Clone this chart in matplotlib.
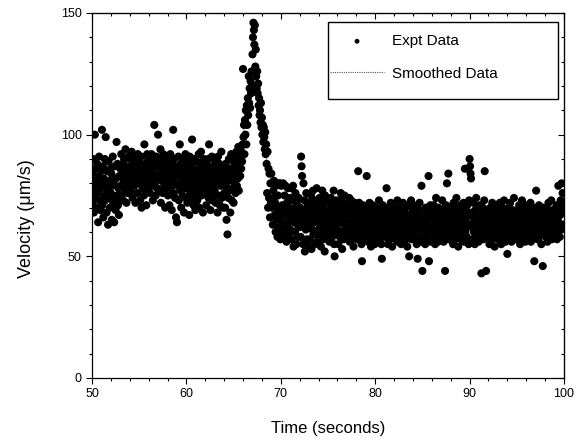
import numpy as np
import matplotlib
matplotlib.use("Agg")
import matplotlib.pyplot as plt
from matplotlib.ticker import MultipleLocator
from matplotlib.patches import Rectangle

# ---- data ----
t_start = 50.0
sample_dt = 0.05  # seconds between samples
velocity_rows = [
    [84,72,90,77,68,81,100,74,86,79,70,88,76,64,83,91,73,80,69,85],   # 50 s
    [78,102,71,87,66,82,75,90,73,99,80,68,85,77,63,89,74,81,70,86],
    [76,84,65,79,91,72,80,64,87,74,69,82,97,75,88,71,78,67,83,73],
    [86,79,92,75,84,88,73,81,90,77,85,94,80,72,87,83,76,91,82,78],
    [84,90,77,86,93,80,74,88,82,91,79,85,72,89,83,87,76,92,81,86],
    [80,89,73,85,91,70,83,78,87,82,75,96,84,79,88,71,86,92,77,90],   # 55 s
    [85,81,90,76,88,83,92,79,86,73,89,84,104,80,87,75,91,82,78,88],
    [100,83,77,90,86,94,72,85,81,89,76,92,84,79,87,70,83,91,78,86],
    [82,75,89,80,71,86,92,78,84,69,88,81,102,76,90,83,74,87,66,80],
    [64,85,79,91,73,83,96,77,88,70,82,86,75,90,80,68,84,78,92,74],
    [81,87,72,89,79,84,67,91,76,83,88,74,98,80,86,71,90,78,85,69],   # 60 s
    [82,76,89,73,85,80,92,70,87,78,84,93,75,81,88,68,83,90,77,86],
    [79,85,71,88,76,82,90,74,96,80,86,69,83,78,91,73,87,81,75,84],
    [77,89,72,83,80,86,68,91,75,82,88,71,85,79,93,74,81,87,70,84],
    [76,83,70,88,79,65,85,59,81,74,90,77,86,68,82,92,73,84,78,89],
    [72,86,80,91,76,84,93,79,88,82,95,77,87,90,83,94,86,91,89,96],   # 65 s
    [127,99,104,92,106,100,110,96,112,104,115,108,124,113,119,111,122,117,126,120],
    [133,140,146,143,137,145,128,135,124,119,126,117,121,112,115,108,110,105,113,103],
    [107,100,104,97,103,99,94,101,92,96,88,76,93,70,86,74,84,66,80,72],
    [84,70,80,63,77,74,81,67,72,60,79,65,70,58,75,80,62,68,80,57],
    [66,79,60,71,64,80,58,69,75,62,79,67,56,72,63,78,59,70,65,74],   # 70 s
    [61,69,78,57,66,73,79,54,64,70,60,76,67,55,72,63,68,58,74,65],
    [62,70,58,91,87,83,67,55,80,64,73,52,69,61,76,57,66,71,54,68],
    [63,72,57,68,75,53,66,61,77,59,70,64,55,73,67,60,78,56,65,71],
    [58,69,74,62,66,54,72,60,77,64,57,70,67,52,75,61,68,63,73,59],
    [66,60,72,56,69,63,74,61,67,58,71,64,77,55,50,68,62,73,59,65],   # 75 s
    [61,70,55,67,73,58,64,76,60,69,53,66,72,57,63,75,59,68,62,71],
    [64,58,71,62,67,74,56,69,60,73,65,57,70,63,54,68,61,72,59,66],
    [62,69,57,65,85,60,72,58,67,63,70,55,48,64,71,59,66,61,68,57],
    [60,67,83,63,70,56,65,61,72,58,66,54,69,62,57,71,64,59,68,55],
    [63,58,70,61,66,56,68,60,73,57,65,62,69,55,49,64,71,59,67,61],   # 80 s
    [58,66,62,69,78,60,64,55,70,63,57,67,61,72,59,65,54,68,62,60],
    [65,59,70,57,63,68,61,73,56,66,60,71,58,64,69,55,62,67,60,72],
    [61,68,56,64,70,59,66,62,54,71,63,58,50,67,60,65,73,57,62,69],
    [59,66,71,62,57,68,60,64,55,70,49,63,67,58,72,61,65,56,79,62],
    [44,64,58,69,61,66,55,70,63,59,67,62,57,83,48,65,60,71,56,68],   # 85 s
    [62,69,57,65,71,60,66,55,63,74,58,67,61,56,70,64,59,68,62,66],
    [60,67,73,58,64,56,69,62,44,66,71,59,80,63,68,84,57,65,61,70],
    [64,58,70,62,67,55,72,60,65,57,69,63,74,59,66,61,54,68,62,71],
    [61,68,57,65,70,59,63,72,56,66,86,60,69,64,58,71,62,67,55,73],
    [90,87,84,82,63,68,57,66,72,60,64,55,69,61,74,58,67,62,70,56],   # 90 s
    [65,59,71,62,67,43,64,60,70,57,66,73,85,61,68,44,63,58,69,64],
    [60,67,55,64,70,58,66,62,72,57,65,61,68,54,63,71,59,66,62,69],
    [63,57,68,61,72,59,65,55,67,62,70,58,64,73,60,66,56,69,63,61],
    [51,66,60,70,58,64,72,61,67,56,63,69,59,65,74,57,62,68,60,66],
    [62,69,57,65,60,71,63,55,68,61,66,73,58,64,70,59,67,62,56,69],   # 95 s
    [59,65,71,61,67,57,64,69,60,72,56,63,66,58,70,62,68,48,61,65],
    [64,77,60,68,57,66,62,71,58,65,69,61,55,67,63,46,70,59,66,62],
    [61,67,58,70,63,56,65,72,60,66,59,68,62,73,57,64,69,60,66,63],
    [65,59,68,62,71,57,66,60,79,64,70,58,67,73,61,80,69,76,63,72],
]
smooth_t = [50, 52, 54, 56, 58, 60, 62, 64, 65, 65.5, 66, 66.5, 67, 67.3,
            67.6, 68, 68.5, 69, 69.5, 70, 71, 72, 74, 76, 78, 80, 85, 90, 95, 100]
smooth_v = [79, 78, 83, 83, 81, 80, 80, 78, 82, 88, 100, 115, 128, 128,
            118, 104, 90, 80, 73, 67, 66, 65, 64, 64, 63, 63, 62, 63, 63, 64]

x_ticks = [50, 60, 70, 80, 90, 100]
y_ticks = [0, 50, 100, 150]

velocity = np.concatenate([np.asarray(r, float) for r in velocity_rows])
time = t_start + sample_dt * np.arange(velocity.size)

# ---- figure ----
plt.rcParams['font.family'] = ['Liberation Sans', 'DejaVu Sans']
fig = plt.figure(figsize=(5.82, 4.41), dpi=100)
ax = fig.add_axes([92/582, 1-378/441, (564-92)/582, (378-13)/441])

ax.plot(smooth_t, smooth_v, color='0.35', lw=0.8, ls=(0, (1, 1)),
        zorder=2, label='Smoothed Data')
ax.scatter(time, velocity, s=34, color='black', edgecolors='none',
           zorder=3, label='Expt Data')

ax.set_xlim(50, 100)
ax.set_ylim(0, 150)
ax.set_xticks(x_ticks)
ax.set_yticks(y_ticks)
ax.xaxis.set_minor_locator(MultipleLocator(2))
ax.yaxis.set_minor_locator(MultipleLocator(10))
ax.tick_params(which='both', direction='out', labelsize=9, width=0.8)
ax.tick_params(which='major', length=4)
ax.tick_params(which='minor', length=2.5)
for s in ax.spines.values():
    s.set_linewidth(0.9)

top = ax.secondary_xaxis('top')
top.set_xticks(x_ticks)
top.xaxis.set_minor_locator(MultipleLocator(2))
top.tick_params(which='both', direction='in', labeltop=False, width=0.8)
top.tick_params(which='major', length=4)
top.tick_params(which='minor', length=2.5)
right = ax.secondary_yaxis('right')
right.set_yticks(y_ticks)
right.yaxis.set_minor_locator(MultipleLocator(10))
right.tick_params(which='both', direction='in', labelright=False, width=0.8)
right.tick_params(which='major', length=4)
right.tick_params(which='minor', length=2.5)

ax.set_xlabel('Time (seconds)', fontsize=12)
ax.set_ylabel('Velocity (\u03bcm/s)', fontsize=13)
ax.xaxis.set_label_coords(0.5, -0.118)
ax.yaxis.set_label_coords(-0.12, 0.436)

# legend frame drawn as a box, legend entries placed inside
ax.add_patch(Rectangle((0.5, 0.764), 0.487, 0.211, transform=ax.transAxes,
                       facecolor='white', edgecolor='black', lw=1.0,
                       zorder=4, clip_on=False))
handles, labels = ax.get_legend_handles_labels()
leg = ax.legend([handles[1], handles[0]], [labels[1], labels[0]],
                loc='upper left', bbox_to_anchor=(0.5, 0.948),
                borderaxespad=0, fontsize=11, frameon=False,
                handlelength=3.5, handletextpad=0.55, labelspacing=1.2,
                borderpad=0.15, markerscale=0.6, scatterpoints=1)
leg.set_zorder(5)

fig.savefig('out.png', dpi=100)
